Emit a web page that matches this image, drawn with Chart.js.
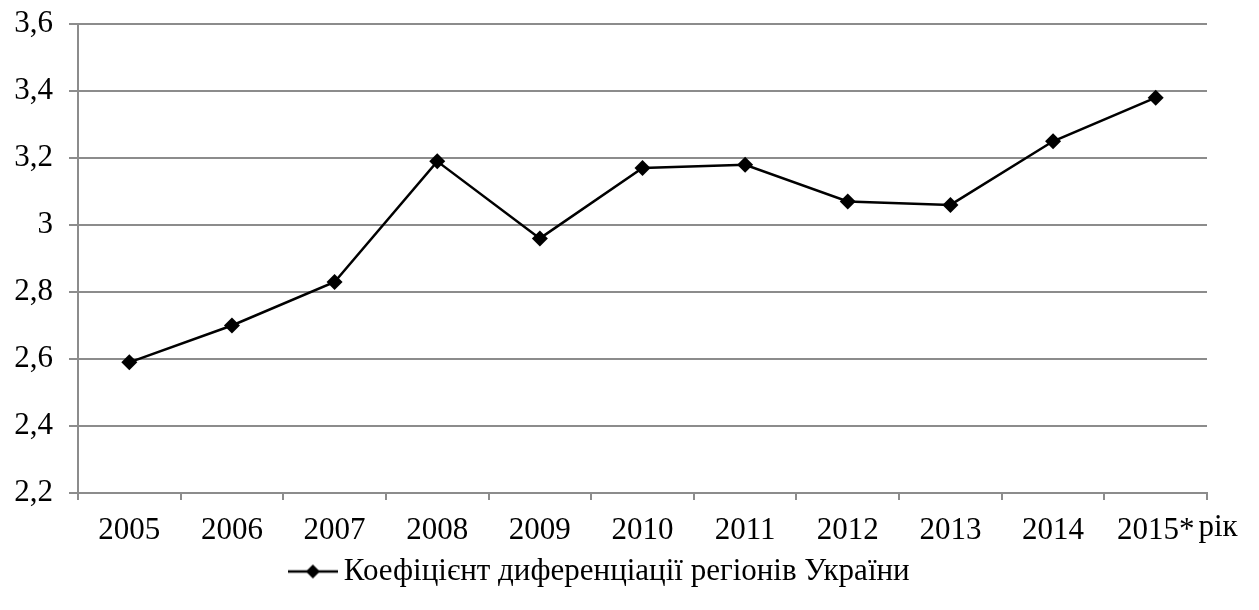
<!DOCTYPE html>
<html>
<head>
<meta charset="utf-8">
<script src="https://cdn.jsdelivr.net/npm/chart.js@4"></script>
<style>
  html, body { margin: 0; padding: 0; background: #fff; }
  #wrap { width: 1259px; height: 610px; position: relative; }
</style>
</head>
<body>
<div id="wrap"><canvas id="c" width="1259" height="610"></canvas></div>
<script>
const categories = ["2005", "2006", "2007", "2008", "2009", "2010", "2011", "2012", "2013", "2014", "2015*"];
const seriesValues = [2.59, 2.70, 2.83, 3.19, 2.96, 3.17, 3.18, 3.07, 3.06, 3.25, 3.38];
const seriesName = "Коефіцієнт диференціації регіонів України";
const yTickValues = [2.2, 2.4, 2.6, 2.8, 3.0, 3.2, 3.4, 3.6];
const xAxisUnit = "рік";

const FONT = "'Liberation Serif', 'Times New Roman', serif";
const FS = 31;
const GRID = "#8c8c8c";

// legend symbol: line with diamond
function legendSymbol() {
  const cv = document.createElement('canvas');
  cv.width = 50; cv.height = 18;
  const g = cv.getContext('2d');
  g.strokeStyle = '#000'; g.lineWidth = 2.5;
  g.beginPath(); g.moveTo(0, 9); g.lineTo(50, 9); g.stroke();
  g.fillStyle = '#000';
  g.beginPath(); g.moveTo(25, 2); g.lineTo(32, 9); g.lineTo(25, 16); g.lineTo(18, 9); g.closePath(); g.fill();
  return cv;
}

const unitLabel = {
  id: 'unitLabel',
  afterDraw(chart) {
    const xs = chart.scales.x;
    const ctx = chart.ctx;
    ctx.save();
    ctx.font = FS + "px " + FONT;
    ctx.fillStyle = '#000';
    ctx.textAlign = 'left';
    ctx.textBaseline = 'middle';
    const lastX = xs.getPixelForValue(categories.length - 1);
    const w = ctx.measureText(categories[categories.length - 1]).width;
    ctx.fillText(xAxisUnit, lastX + w / 2 + 4, 528);
    ctx.restore();
  }
};

new Chart(document.getElementById('c'), {
  type: 'line',
  data: {
    labels: categories,
    datasets: [{
      label: seriesName,
      data: seriesValues,
      borderColor: '#000',
      backgroundColor: '#000',
      borderWidth: 2.5,
      pointStyle: 'rectRot',
      pointRadius: 8,
      pointBorderWidth: 0,
      pointBackgroundColor: '#000',
      tension: 0
    }]
  },
  options: {
    responsive: false,
    animation: false,
    layout: { padding: { top: 24, left: 0, right: 52, bottom: 13 } },
    plugins: {
      tooltip: { enabled: false },
      legend: {
        position: 'bottom',
        labels: {
          font: { family: FONT, size: FS },
          color: '#000',
          usePointStyle: true,
          padding: 6,
          generateLabels(chart) {
            return [{ text: seriesName, pointStyle: legendSymbol(), fillStyle: '#000', strokeStyle: '#000', lineWidth: 0, hidden: false, datasetIndex: 0 }];
          }
        }
      }
    },
    scales: {
      x: {
        offset: true,
        grid: { display: true, offset: true, drawOnChartArea: false, drawTicks: true, tickLength: 7, color: GRID, lineWidth: 2 },
        border: { display: true, color: GRID, width: 2 },
        ticks: { font: { family: FONT, size: FS }, color: '#000', padding: 12, maxRotation: 0, autoSkip: false },
        afterFit(s) { s.height = 57; s.paddingLeft = 0; s.paddingRight = 0; }
      },
      y: {
        min: 2.2, max: 3.6,
        afterBuildTicks(s) { s.ticks = yTickValues.map(v => ({ value: v })); },
        grid: { color: GRID, lineWidth: 2, tickLength: 9, drawTicks: true },
        border: { display: true, color: GRID, width: 2 },
        ticks: {
          font: { family: FONT, size: FS }, color: '#000', padding: 16,
          callback: (v) => String(Number(Number(v).toFixed(1))).replace('.', ',')
        },
        afterFit(s) { s.width = 78; s.paddingTop = 0; s.paddingBottom = 0; }
      }
    }
  },
  plugins: [unitLabel]
});
</script>
</body>
</html>
